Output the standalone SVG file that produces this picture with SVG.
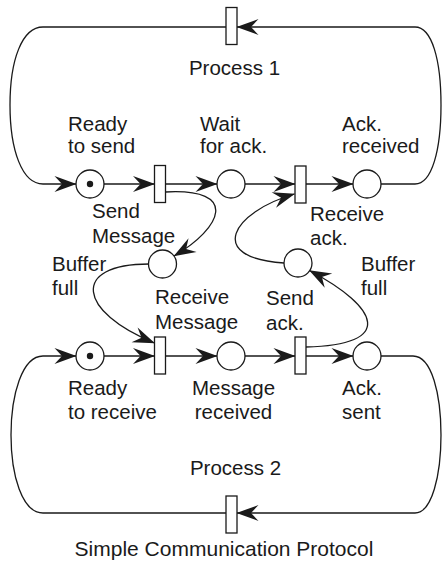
<svg xmlns="http://www.w3.org/2000/svg" width="443" height="564" viewBox="0 0 443 564">
  <style>
    .place { fill: #fff; stroke: #1a1a1a; stroke-width: 1.3; }
    .token { fill: #1a1a1a; }
    .trans { fill: #fff; stroke: #1a1a1a; stroke-width: 1.3; }
    .arrow { fill: none; stroke: #1a1a1a; stroke-width: 1.3; marker-end: url(#head); }
    text { font-family: "Liberation Sans", Arial, sans-serif; font-size: 20.5px; fill: #1a1a1a; }
    .title { font-size: 21px; }
  </style>
  <defs>
    <!-- barbed arrowhead, tip at the path end -->
    <marker id="head" markerUnits="userSpaceOnUse" viewBox="-23 -9 24 18" refX="0" refY="0" markerWidth="24" markerHeight="18" orient="auto">
      <path d="M0.5,0 L-21.5,-8 L-14,0 L-21.5,8 Z" fill="#1a1a1a"/>
    </marker>
  </defs>

  <!-- connectors -->
  <g id="connectors">
    <!-- process 1 loop -->
    <path class="arrow" d="M381,184 L415,184 C432,184 441,150 441,105 C441,60 432,27 415,27 L237,27"/>
    <path class="arrow" d="M226,27 L43,27 C22,27 10,60 10,105 C10,150 22,184 43,184 L76,184"/>
    <!-- process 1 row -->
    <path class="arrow" d="M104,184 L154.5,184"/>
    <path class="arrow" d="M165.5,184 L217,184"/>
    <path class="arrow" d="M245,184 L295,184"/>
    <path class="arrow" d="M306,184 L353,184"/>
    <!-- process 2 row -->
    <path class="arrow" d="M104,356 L154.5,356"/>
    <path class="arrow" d="M165.5,356 L217,356"/>
    <path class="arrow" d="M245,356 L295,356"/>
    <path class="arrow" d="M306,356 L353,356"/>
    <!-- process 2 loop -->
    <path class="arrow" d="M381,356 L413,356 C432,356 441,395 441,435 C441,475 432,513 415,513 L237,513"/>
    <path class="arrow" d="M226,513 L43,513 C22,513 11,475 11,435 C11,395 22,356 43,356 L76,356"/>
    <!-- message and acknowledgement buffers -->
    <path class="arrow" d="M165.5,192 C240,188 222,228 174,256"/>
    <path class="arrow" d="M149,264 C70,264 78,312 154.5,343"/>
    <path class="arrow" d="M306,347 C395,345 380,308 309.5,270.5"/>
    <path class="arrow" d="M284,263 C205,258 232,212 294.5,194"/>
  </g>

  <!-- places -->
  <g id="ready-to-send"><circle class="place" cx="90" cy="184" r="14"/><circle class="token" cx="90" cy="184" r="3.2"/></g>
  <g id="wait-for-ack"><circle class="place" cx="231" cy="184" r="14"/></g>
  <g id="ack-received"><circle class="place" cx="367" cy="184" r="14"/></g>
  <g id="buffer-message"><circle class="place" cx="162.5" cy="264" r="14"/></g>
  <g id="buffer-ack"><circle class="place" cx="298" cy="263" r="14"/></g>
  <g id="ready-to-receive"><circle class="place" cx="90" cy="356" r="14"/><circle class="token" cx="90" cy="356" r="3.2"/></g>
  <g id="message-received"><circle class="place" cx="231" cy="356" r="14"/></g>
  <g id="ack-sent"><circle class="place" cx="367" cy="356" r="14"/></g>

  <!-- transitions -->
  <g id="t-process1"><rect class="trans" x="226" y="7.5" width="11" height="37"/></g>
  <g id="t-send-message"><rect class="trans" x="154.5" y="165.5" width="11" height="37"/></g>
  <g id="t-receive-ack"><rect class="trans" x="295" y="166" width="11" height="37"/></g>
  <g id="t-receive-message"><rect class="trans" x="154.5" y="337" width="11" height="37"/></g>
  <g id="t-send-ack"><rect class="trans" x="295" y="337" width="11" height="37"/></g>
  <g id="t-process2"><rect class="trans" x="226" y="496" width="11" height="37"/></g>

  <!-- labels -->
  <g id="labels">
    <text x="234.5" y="75" text-anchor="middle">Process 1</text>
    <text x="68" y="131">Ready</text>
    <text x="68" y="153">to send</text>
    <text x="200" y="131">Wait</text>
    <text x="200" y="153">for ack.</text>
    <text x="342" y="131">Ack.</text>
    <text x="342" y="153">received</text>
    <text x="92" y="218">Send</text>
    <text x="92" y="243">Message</text>
    <text x="310" y="221">Receive</text>
    <text x="310" y="245">ack.</text>
    <text x="52" y="271">Buffer</text>
    <text x="52" y="295">full</text>
    <text x="361" y="271">Buffer</text>
    <text x="361" y="295">full</text>
    <text x="155" y="304">Receive</text>
    <text x="155" y="329">Message</text>
    <text x="266" y="305">Send</text>
    <text x="266" y="330">ack.</text>
    <text x="68" y="395">Ready</text>
    <text x="68" y="419">to receive</text>
    <text x="233.5" y="395" text-anchor="middle">Message</text>
    <text x="233.5" y="419" text-anchor="middle">received</text>
    <text x="342" y="395">Ack.</text>
    <text x="342" y="419">sent</text>
    <text x="235.5" y="475" text-anchor="middle">Process 2</text>
    <text class="title" x="224" y="556" text-anchor="middle">Simple Communication Protocol</text>
  </g>
</svg>
